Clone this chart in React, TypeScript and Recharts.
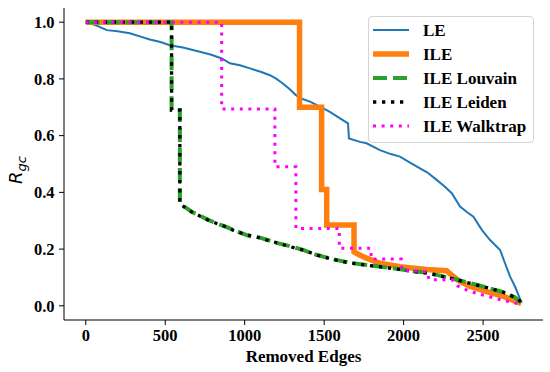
import { LineChart, Line, XAxis, YAxis, Legend } from 'recharts';

// removed edges vs R_gc
const lePoints: [number, number][] = [
  [0, 1.0], [60, 0.99], [132, 0.972], [200, 0.968], [277, 0.961], [340, 0.95], [403, 0.939],
  [470, 0.93], [529, 0.919], [611, 0.911], [718, 0.896], [790, 0.885], [856, 0.872], [907, 0.855],
  [970, 0.848], [1033, 0.837], [1100, 0.825], [1159, 0.813], [1200, 0.8], [1240, 0.784],
  [1280, 0.765], [1322, 0.743], [1360, 0.73], [1411, 0.72], [1474, 0.702], [1536, 0.684],
  [1600, 0.661], [1650, 0.643], [1656, 0.59], [1725, 0.578], [1767, 0.573], [1851, 0.549],
  [1920, 0.535], [1977, 0.526], [2040, 0.505], [2103, 0.485], [2150, 0.47], [2208, 0.444],
  [2260, 0.42], [2303, 0.397], [2355, 0.35], [2400, 0.33], [2439, 0.314], [2492, 0.268],
  [2544, 0.232], [2607, 0.197], [2638, 0.15], [2670, 0.103], [2701, 0.068], [2722, 0.039],
  [2743, 0.01],
];

const ilePoints: [number, number][] = [
  [0, 1.0], [1345, 1.0], [1345, 0.7], [1484, 0.7], [1484, 0.41], [1516, 0.41], [1516, 0.285],
  [1688, 0.285], [1688, 0.19], [1720, 0.18], [1767, 0.168], [1851, 0.15], [1977, 0.138],
  [2145, 0.128], [2270, 0.124], [2313, 0.103], [2355, 0.086], [2418, 0.068], [2523, 0.05],
  [2628, 0.033], [2740, 0.008],
];

const louvainPoints: [number, number][] = [
  [0, 1.0], [540, 1.0], [540, 0.69], [592, 0.69], [592, 0.362], [634, 0.344], [670, 0.33],
  [718, 0.318], [770, 0.303], [823, 0.291], [875, 0.28], [927, 0.268], [980, 0.256],
  [1033, 0.245], [1085, 0.242], [1138, 0.233], [1200, 0.222], [1285, 0.21], [1368, 0.197],
  [1450, 0.18], [1557, 0.164], [1660, 0.152], [1767, 0.144], [1870, 0.137], [1977, 0.129],
  [2060, 0.122], [2145, 0.117], [2208, 0.109], [2300, 0.097], [2418, 0.08], [2520, 0.065],
  [2628, 0.048], [2700, 0.03], [2743, 0.01],
];

const leidenPoints: [number, number][] = [
  [0, 1.0], [540, 1.0], [540, 0.69], [592, 0.69], [592, 0.36], [640, 0.34], [680, 0.327],
  [720, 0.316], [775, 0.301], [830, 0.289], [880, 0.279], [930, 0.266], [985, 0.255],
  [1040, 0.247], [1090, 0.24], [1140, 0.232], [1210, 0.221], [1290, 0.208], [1370, 0.196],
  [1455, 0.179], [1560, 0.163], [1665, 0.151], [1770, 0.143], [1875, 0.136], [1980, 0.128],
  [2065, 0.121], [2150, 0.115], [2210, 0.108], [2305, 0.096], [2420, 0.079], [2525, 0.064],
  [2630, 0.047], [2705, 0.029], [2743, 0.012],
];

const walktrapPoints: [number, number][] = [
  [0, 1.0], [855, 1.0], [855, 0.694], [1190, 0.694], [1190, 0.49], [1322, 0.49], [1322, 0.273],
  [1595, 0.273], [1595, 0.203], [1795, 0.203], [1795, 0.165], [1985, 0.165], [1990, 0.125],
  [2150, 0.12], [2160, 0.092], [2305, 0.092], [2340, 0.07], [2420, 0.05], [2520, 0.035],
  [2620, 0.02], [2740, 0.005],
];

const xTicks = [0, 500, 1000, 1500, 2000, 2500];
const yTicks = [0, 0.2, 0.4, 0.6, 0.8, 1.0];

const FONT = 'Liberation Serif';

const toRows = (pts: [number, number][]) => pts.map(([x, y]) => ({ x, y }));

const series = [
  { name: 'LE', pts: lePoints, color: '#1f77b4', width: 2, dash: undefined as string | undefined },
  { name: 'ILE', pts: ilePoints, color: '#ff7f0e', width: 5.5, dash: undefined },
  { name: 'ILE Louvain', pts: louvainPoints, color: '#2ca02c', width: 4, dash: '14 6' },
  { name: 'ILE Leiden', pts: leidenPoints, color: '#000000', width: 3.3, dash: '3.3 5.7' },
  { name: 'ILE Walktrap', pts: walktrapPoints, color: '#ff00ff', width: 3, dash: '3 5.6' },
];

function LegendBox() {
  return (
    <div
      style={{
        width: 166,
        height: 127,
        boxSizing: 'border-box',
        border: '1px solid #d4d4d4',
        borderRadius: 4,
        background: 'rgba(255,255,255,0.8)',
      }}
    >
      <svg width={164} height={125} style={{ display: 'block' }}>
        {series.map((s, i) => {
          const cy = 13 + i * 24;
          return (
            <g key={s.name}>
              <line x1={4} x2={40} y1={cy} y2={cy} stroke={s.color} strokeWidth={s.width} strokeDasharray={s.dash} />
              <text x={54} y={cy} dy="0.35em" fontFamily={FONT} fontWeight="bold" fontSize={17} fill="#000">
                {s.name}
              </text>
            </g>
          );
        })}
      </svg>
    </div>
  );
}

export default function App() {
  const tickStyle = { fill: '#000', fontFamily: FONT, fontWeight: 'bold', fontSize: 16.5 };
  return (
    <div style={{ position: 'absolute', left: 0, top: 0, width: 550, height: 372, background: '#fff' }}>
      <LineChart width={550} height={372} margin={{ top: 8, right: 7, left: 0, bottom: 0 }}>
        <XAxis
          dataKey="x"
          type="number"
          domain={[-137, 2877]}
          allowDataOverflow
          ticks={xTicks}
          height={52}
          tickSize={5}
          tickMargin={4}
          tick={tickStyle}
          axisLine={{ stroke: '#000', strokeWidth: 1 }}
          tickLine={{ stroke: '#000' }}
          label={{
            content: () => (
              <text x={303.5} y={362} textAnchor="middle" fontFamily={FONT} fontWeight="bold" fontSize={17} fill="#000">
                Removed Edges
              </text>
            ),
          }}
        />
        <YAxis
          type="number"
          domain={[-0.05, 1.05]}
          allowDataOverflow
          ticks={yTicks}
          tickFormatter={(v: number) => v.toFixed(1)}
          width={64}
          tickSize={5}
          tickMargin={4.5}
          tick={tickStyle}
          axisLine={{ stroke: '#000', strokeWidth: 1 }}
          tickLine={{ stroke: '#000' }}
          label={{
            content: () => (
              <text
                x={22}
                y={170}
                transform="rotate(-90 22 170)"
                textAnchor="middle"
                fontFamily="DejaVu Sans"
                fontStyle="italic"
                fontSize={18}
                fill="#000"
              >
                R<tspan fontSize={13} dy={4}>gc</tspan>
              </text>
            ),
          }}
        />
        {series.map((s) => (
          <Line
            key={s.name}
            name={s.name}
            data={toRows(s.pts)}
            dataKey="y"
            type="linear"
            stroke={s.color}
            strokeWidth={s.width}
            strokeDasharray={s.dash}
            dot={false}
            activeDot={false}
            isAnimationActive={false}
          />
        ))}
        <Legend
          layout="horizontal"
          verticalAlign="middle"
          align="center"
          wrapperStyle={{ left: 368, top: 16, width: 166, height: 127 }}
          content={() => <LegendBox />}
        />
      </LineChart>
    </div>
  );
}
